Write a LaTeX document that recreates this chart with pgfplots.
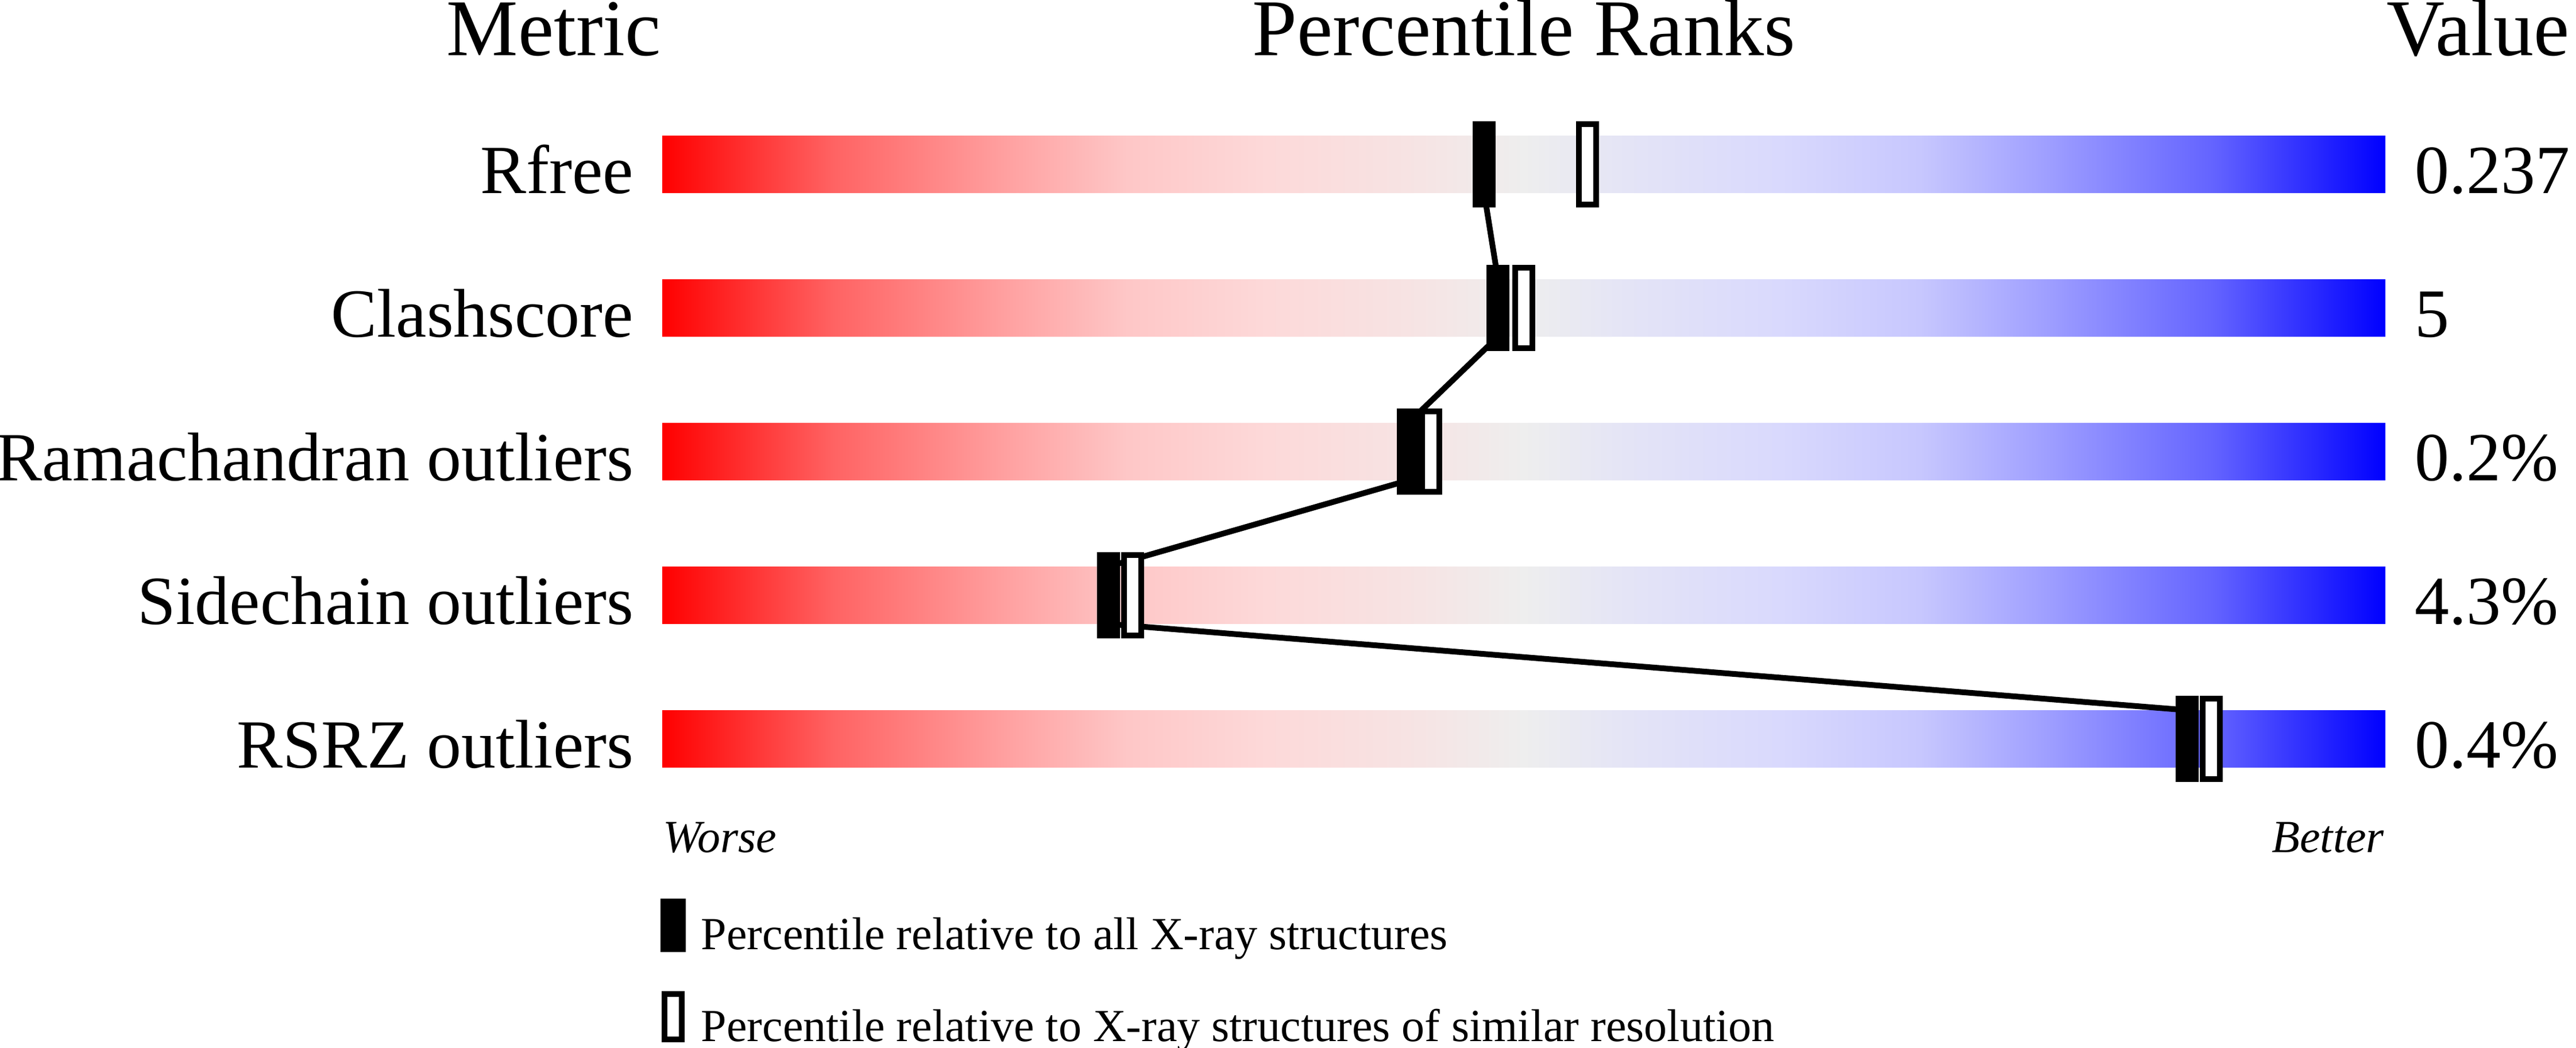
\documentclass[border=0pt]{standalone}
\usepackage{fontspec}
\setmainfont{Liberation Serif}
\usepackage{pgfplots}
\usepackage{pgfplotstable}
\pgfplotsset{compat=1.18}

% red -> grey -> blue, 25bp..75bp is the bar itself
\pgfdeclarehorizontalshading{pdbgrad}{100bp}{%
  rgb(0bp)=(1,0,0); rgb(25bp)=(1,0,0);
  rgb(30bp)=(1,0.39,0.39); rgb(35bp)=(1,0.63,0.63);
  rgb(38.5bp)=(0.996,0.78,0.78); rgb(42.5bp)=(0.992,0.85,0.85);
  rgb(47bp)=(0.965,0.894,0.894); rgb(50bp)=(0.933,0.933,0.933);
  rgb(53bp)=(0.894,0.894,0.965); rgb(57.5bp)=(0.85,0.85,0.992);
  rgb(61.5bp)=(0.78,0.78,0.996); rgb(65bp)=(0.63,0.63,1);
  rgb(70bp)=(0.39,0.39,1); rgb(75bp)=(0,0,1); rgb(100bp)=(0,0,1)}

\pgfdeclareplotmark{pctall}{%
  \pgfpathrectangle{\pgfpoint{-2bp}{-7.5bp}}{\pgfpoint{4bp}{15bp}}%
  \pgfusepathqfill}
\pgfdeclareplotmark{pctres}{%
  \pgfsetlinewidth{1bp}%
  \pgfpathrectangle{\pgfpoint{-1.5bp}{-7bp}}{\pgfpoint{3bp}{14bp}}%
  \pgfusepathqfillstroke}

\pgfplotstableread{
row all res
5 47.7 53.7
4 48.5 50.0
3 43.3 44.6
2 25.9 27.3
1 88.5 89.9
}\ranks

\begin{document}
\begin{tikzpicture}
\begin{axis}[
    at={(115.3bp,28.8bp)}, anchor=south west,
    scale only axis,
    width=300bp, height=150bp,
    xmin=0, xmax=100, ymin=0, ymax=6,
    clip=false,
    axis line style={draw=none},
    tick style={draw=none},
    major tick length=0pt,
    xtick=\empty,
    ytick={1,2,3,4,5},
    yticklabels={RSRZ outliers,Sidechain outliers,Ramachandran outliers,Clashscore,Rfree},
    yticklabel style={anchor=base east, inner sep=0pt, xshift=-4.8bp, yshift=-5bp,
        font=\fontsize{12bp}{14bp}\selectfont},
    legend style={at={(axis cs:-0.167,-0.104)}, anchor=north west, draw=none, fill=none,
        inner sep=0pt, row sep=5.76bp, nodes={inner sep=0pt},
        font=\fontsize{8bp}{9.6bp}\selectfont,
        /tikz/every odd column/.style={column sep=2.7bp}},
    legend cell align=left,
    reverse legend,
]

% gradient bars
\addplot[xbar, bar width=0.4, draw=none, shade, shading=pdbgrad, forget plot]
    coordinates {(100,1) (100,2) (100,3) (100,4) (100,5)};

\addplot[only marks, mark=pctres, mark options={draw=black, fill=white},
    legend image code/.code={\draw[line width=1bp, fill=white] (0.5bp,-1.76bp) rectangle (3.5bp,6.14bp);}]
    table[x=res, y=row] {\ranks};
\addlegendentry{Percentile relative to X-ray structures of similar resolution}

\addplot[black, line width=1bp, forget plot]
    coordinates {(47.7,5.2) (47.7,4.8) (48.5,4.2) (48.5,3.8) (43.3,3.2) (43.3,2.8)
                 (25.9,2.2) (25.9,1.8) (88.5,1.2) (88.5,0.8)};

\addplot[only marks, mark=pctall, mark options={fill=black},
    legend image code/.code={\fill[black] (0bp,-2.26bp) rectangle (4bp,6.64bp);}]
    table[x=all, y=row] {\ranks};
\addlegendentry{Percentile relative to all X-ray structures}

% values on the right
\addplot[draw=none, mark=none, forget plot, point meta=explicit symbolic,
    nodes near coords,
    nodes near coords style={anchor=base west, inner sep=0pt, xshift=4.9bp, yshift=-5bp,
        font=\fontsize{12bp}{14bp}\selectfont}]
    coordinates {(100,5) [0.237] (100,4) [5] (100,3) [0.2\%] (100,2) [4.3\%] (100,1) [0.4\%]};

\node[anchor=base east, inner sep=0pt, font=\fontsize{14bp}{16bp}\selectfont] at (axis cs:0,5.76) {Metric};
\node[anchor=base, inner sep=0pt, font=\fontsize{14bp}{16bp}\selectfont] at (axis cs:50,5.76) {Percentile Ranks};
\node[anchor=base west, inner sep=0pt, font=\fontsize{14bp}{16bp}\selectfont] at (axis cs:100,5.76) {Value};
\node[anchor=base west, inner sep=0pt, font=\fontsize{8bp}{9.6bp}\itshape] at (axis cs:0,0.212) {Worse};
\node[anchor=base east, inner sep=0pt, font=\fontsize{8bp}{9.6bp}\itshape] at (axis cs:100,0.212) {Better};
\end{axis}
\pgfresetboundingbox
\path[use as bounding box] (0,0) rectangle (448.5bp,182.4bp);
\end{tikzpicture}
\end{document}
